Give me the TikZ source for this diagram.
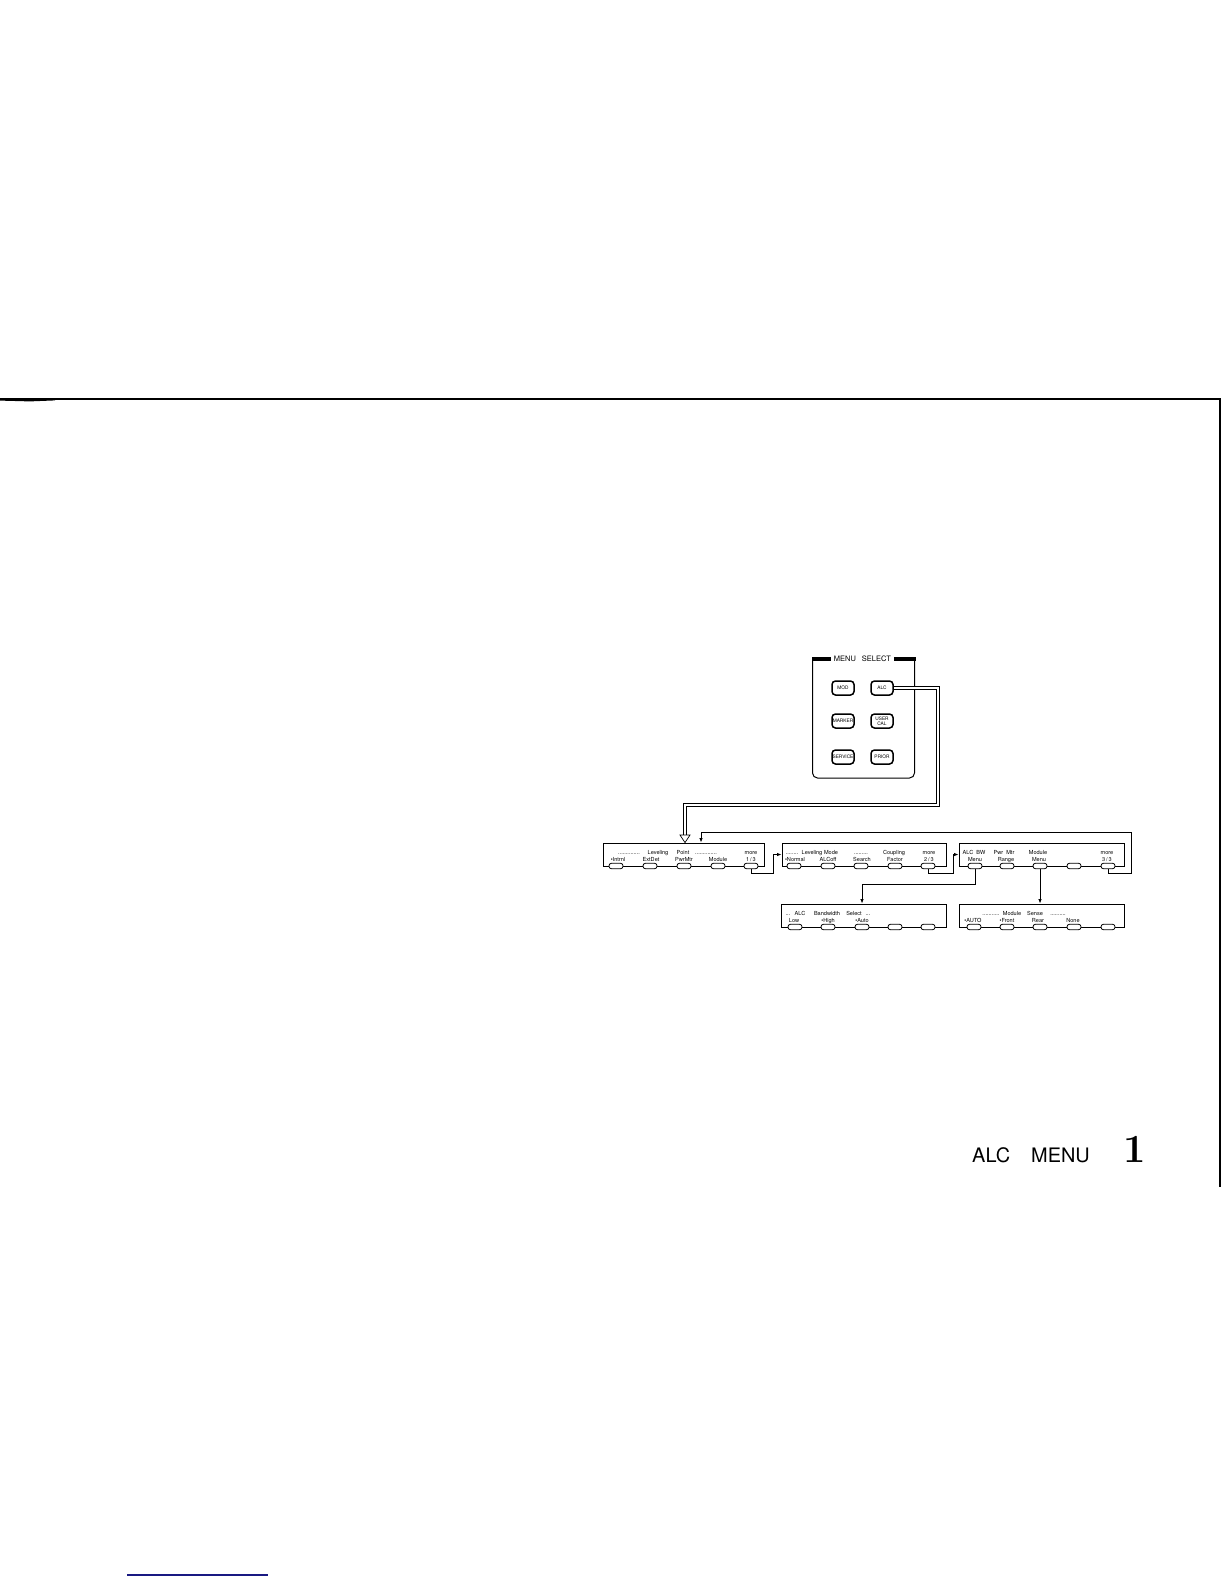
\documentclass[tikz,border=0pt]{standalone}
\usepackage{fontspec}
\newfontfamily\heros{TeX Gyre Heros}
\usetikzlibrary{arrows.meta}
\begin{document}
\begin{tikzpicture}[x=1bp,y=-1bp,
  mbox/.style={draw, line width=0.9bp, minimum height=23bp, inner sep=0, anchor=center},
  mbtn/.style={draw, fill=white, line width=0.8bp, rounded corners=2.5bp, minimum width=14bp, minimum height=5.5bp, inner sep=0},
  pbtn/.style={draw, fill=white, line width=1.5bp, rounded corners=3.5bp, minimum width=22bp, minimum height=14bp, inner sep=0, align=center, font=\heros\fontsize{4.8}{5}\selectfont},
  mtxt/.style={anchor=base, inner sep=0, font=\heros\fontsize{5.6}{6.5}\selectfont},
  conn/.style={line width=0.8bp},
  arr/.style={conn, -{Latex[length=4.5bp,width=3.5bp]}},
  dbl/.style={double, double distance=2.2bp, line width=0.7bp},
]
\useasboundingbox (0,0) rectangle (1224,1584);
\fill[white] (0,0) rectangle (1224,1584);

% page frame rule
\draw[line width=1.2bp] (0,399) -- (1220,399) -- (1220,1187);
\fill (0,398.4) -- (30,398.4) -- (55,399.2) -- (55,400.4) -- (30,401.4) -- (0,400.6) -- cycle;

% MENU SELECT panel
\draw[line width=1bp, rounded corners=5bp] (812.5,659) -- (812.5,778) -- (914.5,778) -- (914.5,659);
\fill (812,656.5) rectangle (831,661);
\fill (894,656.5) rectangle (915.5,661);
\node[font=\heros\fontsize{7.5}{8}\selectfont, inner sep=0] (mstitle) at (862.5,659) {MENU\hspace{6bp}SELECT};
\node[pbtn] (mod) at (843,688) {MOD};
\node[pbtn] (alc) at (882,688) {ALC};
\node[pbtn] (marker) at (843,721) {MARKER};
\node[pbtn] (usercal) at (882,721) {USER\\CAL};
\node[pbtn] (service) at (843,757) {SERVICE};
\node[pbtn] (prior) at (882,757) {PRIOR};

% menus
\node[mbox, minimum width=161bp] (m1) at (683.5,854.5) {};
\node[mbox, minimum width=164bp] (m2) at (864,854.5) {};
\node[mbox, minimum width=165bp] (m3) at (1041.5,854.5) {};
\node[mbox, minimum width=165bp] (m4) at (863.5,915.5) {};
\node[mbox, minimum width=165bp] (m5) at (1041.5,915.5) {};

\foreach \x [count=\i] in {616,650,684,718,751} \node[mbtn] (m1b\i) at (\x,866) {};
\foreach \x [count=\i] in {794,828,861,895,928} \node[mbtn] (m2b\i) at (\x,866) {};
\foreach \x [count=\i] in {975,1007,1040,1074,1108} \node[mbtn] (m3b\i) at (\x,866) {};
\foreach \x [count=\i] in {795,828,862,895,928} \node[mbtn] (m4b\i) at (\x,927) {};
\foreach \x [count=\i] in {974,1007,1040,1074,1108} \node[mbtn] (m5b\i) at (\x,927) {};

% menu 1 texts
\node[mtxt] (m1t1) at (629,854.5) {..............};
\node[mtxt] (m1t2) at (658,854.5) {Leveling};
\node[mtxt] (m1t3) at (683,854.5) {Point};
\node[mtxt] (m1t4) at (706,854.5) {..............};
\node[mtxt] (m1t5) at (751,854.5) {more};
\foreach \x/\t [count=\i] in {618/{\textbullet Intrnl},651/ExtDet,684/PwrMtr,718/Module,751/{1\,/\,3}}
  \node[mtxt] (m1l\i) at (\x,861.5) {\t};

% menu 2 texts
\node[mtxt] (m2t1) at (792,854.5) {........};
\node[mtxt] (m2t2) at (812,854.5) {Leveling};
\node[mtxt] (m2t3) at (831,854.5) {Mode};
\node[mtxt] (m2t4) at (861,854.5) {.........};
\node[mtxt] (m2t5) at (894,854.5) {Coupling};
\node[mtxt] (m2t6) at (929,854.5) {more};
\foreach \x/\t [count=\i] in {795/{\textbullet Normal},828/ALCoff,862/Search,895/Factor,929/{2\,/\,3}}
  \node[mtxt] (m2l\i) at (\x,861.5) {\t};

% menu 3 texts
\foreach \x/\t [count=\i] in {974/{ALC\ \ BW},1004/{Pwr\ \ Mtr},1038/Module,1107/more}
  \node[mtxt] (m3t\i) at (\x,854.5) {\t};
\foreach \x/\t [count=\i] in {975/Menu,1006/Range,1039/Menu,1107/{3\,/\,3}}
  \node[mtxt] (m3l\i) at (\x,861.5) {\t};

% menu 4 texts
\node[mtxt] (m4t1) at (788,915.5) {...};
\node[mtxt] (m4t2) at (800,915.5) {ALC};
\node[mtxt] (m4t3) at (827,915.5) {Bandwidth};
\node[mtxt] (m4t4) at (854,915.5) {Select};
\node[mtxt] (m4t5) at (868,915.5) {...};
\foreach \x/\t [count=\i] in {794/Low,828/{\textbullet High},862/{\textbullet Auto}}
  \node[mtxt] (m4l\i) at (\x,922.5) {\t};

% menu 5 texts
\node[mtxt] (m5t1) at (991,915.5) {...........};
\node[mtxt] (m5t2) at (1012,915.5) {Module};
\node[mtxt] (m5t3) at (1035,915.5) {Sense};
\node[mtxt] (m5t4) at (1058,915.5) {..........};
\foreach \x/\t [count=\i] in {973/{\textbullet AUTO},1007/{\textbullet Front},1038/Rear,1073/None}
  \node[mtxt] (m5l\i) at (\x,922.5) {\t};

% connectors
\coordinate (d2) at (938,805);
\coordinate (d3) at (685,836);
\draw[dbl] (alc.east) -| (d2) -| (d3);
\draw[line width=0.7bp, fill=white] (680,835) -- (690,835) -- (685,842.6) -- cycle;

\coordinate (k1) at (773,873);
\coordinate (k2) at (953,873);
\draw[arr] (m1b5.south) |- (k1) |- (m2.west);
\draw[arr] (m2b5.south) |- (k2) |- (m3.west);

\coordinate (r1) at (1131,873);
\coordinate (r2) at (701,832);
\draw[arr] (m3b5.south) |- (r1) |- (r2) -- (r2 |- m1.north);

\coordinate (q1) at (862,884);
\draw[arr] (m3b1.south) |- (q1) -- (q1 |- m4.north);
\draw[arr] (m3b3.south) -- (m3b3.south |- m5.north);

% title
\node[anchor=base west, inner sep=0, font=\heros\fontsize{20}{22}\selectfont] (ttl1) at (972,1162) {ALC};
\node[anchor=base west, inner sep=0, font=\heros\fontsize{20}{22}\selectfont] (ttl2) at (1031,1162) {MENU};
\node[anchor=base west, inner sep=0, font=\fontsize{40}{40}\selectfont\bfseries] (num) at (1123,1162) {1};

% bottom blue rule
\definecolor{navyline}{RGB}{25,25,130}
\draw[navyline, line width=1.5bp] (127,1575) -- (268,1575);
\end{tikzpicture}
\end{document}
